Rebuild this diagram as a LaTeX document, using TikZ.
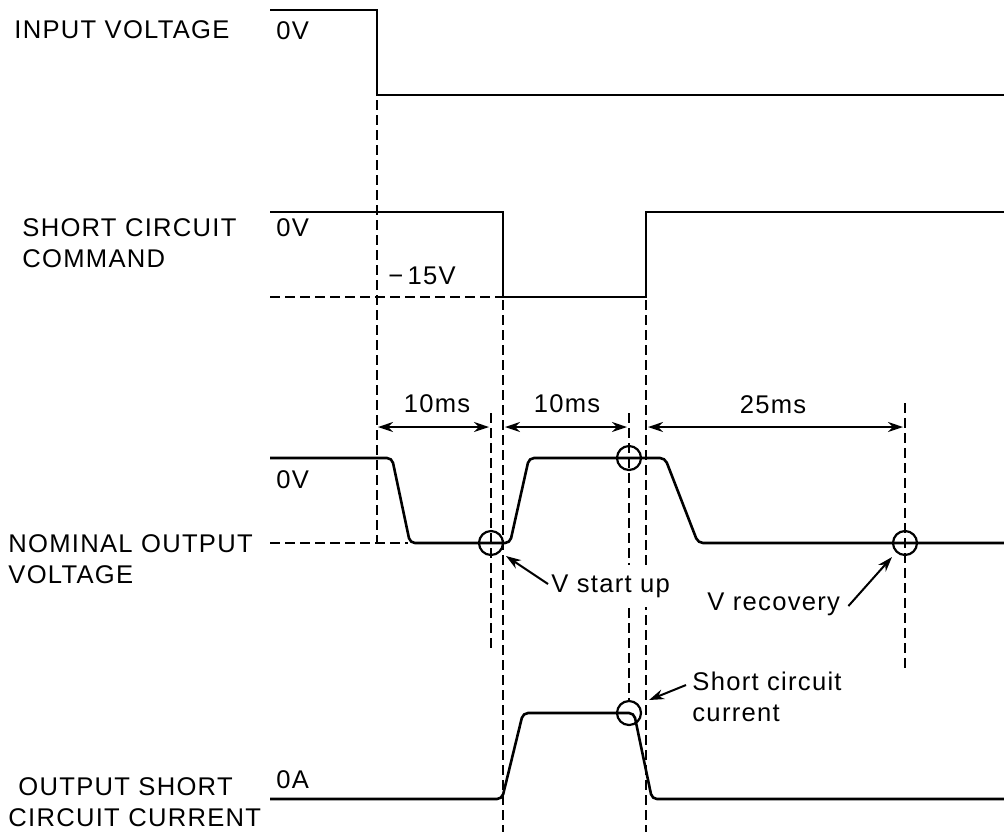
\documentclass[tikz,border=0pt]{standalone}
\usepackage{fontspec}
\setmainfont[LetterSpace=5]{Liberation Sans}
\usetikzlibrary{arrows.meta}

\begin{document}
\begin{tikzpicture}[x=0.5pt,y=-0.5pt,
        sig/.style={line width=1.3pt, rounded corners=2.5pt},
        guide/.style={line width=1.2pt, dash pattern=on 5pt off 2.5pt},
        lbl/.style={anchor=west, inner sep=0pt, font=\fontsize{12.8}{15.5}\selectfont, align=left},
        val/.style={lbl, font=\fontsize{12.8}{14}\selectfont},
        dimarrow/.style={line width=1pt, {Stealth[length=7.5pt,width=5pt]}-{Stealth[length=7.5pt,width=5pt]}},
        pointer/.style={line width=1pt, -{Stealth[length=7.5pt,width=5pt]}},
        ring/.style={circle, draw, line width=1.1pt, minimum size=12pt, inner sep=0pt}]
        \useasboundingbox (0,0) rectangle (1004,832);

        % signal names
        \node[lbl] (inlbl) at (14,30) {INPUT VOLTAGE};
        \node[lbl] (cmdlbl) at (22,243) {SHORT CIRCUIT\\COMMAND};
        \node[lbl] (outlbl) at (8,559) {NOMINAL OUTPUT\\VOLTAGE};
        \node[lbl] (curlbl) at (18,787) {OUTPUT SHORT};
        \node[lbl] (curlblb) at (8,818) {CIRCUIT CURRENT};

        % levels
        \node[val] (inzero) at (276,31) {0V};
        \node[val] (cmdzero) at (276,228) {0V};
        \node[val] (cmdlow) at (388,276) {−\,15V};
        \node[val] (outzero) at (276,480) {0V};
        \node[val] (curzero) at (276,780) {0A};

        % waveforms
        \draw[sig, rounded corners=0pt] (270,10) -- (377,10) -- (377,95) -- (1004,95);
        \draw[sig, rounded corners=0pt] (270,212) -- (503,212) -- (503,297) -- (646,297) -- (646,212) -- (1004,212);
        \draw[sig] (270,458) -- (392,458) -- (410,543) -- (510,543) -- (529,458) -- (665,458) -- (698,543) -- (1004,543);
        \draw[sig] (270,799) -- (502,799) -- (523,713) -- (634,713) -- (652,799) -- (1004,799);

        % guide lines
        \draw[guide] (270,297) -- (503,297);
        \draw[guide] (270,543) -- (408,543);
        \draw[guide] (377,100) -- (377,543);
        \draw[guide] (491,413) -- (491,650);
        \draw[guide] (503,300) -- (503,832);
        \draw[guide] (629,413) -- (629,702);
        \draw[guide] (646,300) -- (646,832);
        \draw[guide] (905,403) -- (905,670);

        % check points
        \node[ring] (rstart) at (491,543) {};
        \node[ring] (rhigh) at (629,458) {};
        \node[ring] (rrec) at (905,543) {};
        \node[ring] (rcur) at (629,713) {};

        % time spans
        \draw[dimarrow] (378,427) -- (489,427);
        \node[val, anchor=center] (ta) at (437,404) {10ms};
        \draw[dimarrow] (505,427) -- (627,427);
        \node[val, anchor=center] (tb) at (567,404) {10ms};
        \draw[dimarrow] (648,427) -- (903,427);
        \node[val, anchor=center] (tc) at (773,405) {25ms};

        % annotations
        \node[lbl, fill=white, inner ysep=5pt] (vstart) at (551,586) {V start up};
        \coordinate (tipstart) at (506,556);
        \draw[pointer] (vstart.west) ++(-3,-2) -- (tipstart);
        \node[lbl] (vrec) at (707,604) {V recovery};
        \coordinate (tiprec) at (892,557);
        \draw[pointer] (vrec.east) ++(8,2) -- (tiprec);
        \node[lbl] (scc) at (692,697) {Short circuit\\current};
        \coordinate (tipcur) at (649,700);
        \draw[pointer] (scc.west) ++(-6,-12) -- (tipcur);
\end{tikzpicture}
\end{document}
